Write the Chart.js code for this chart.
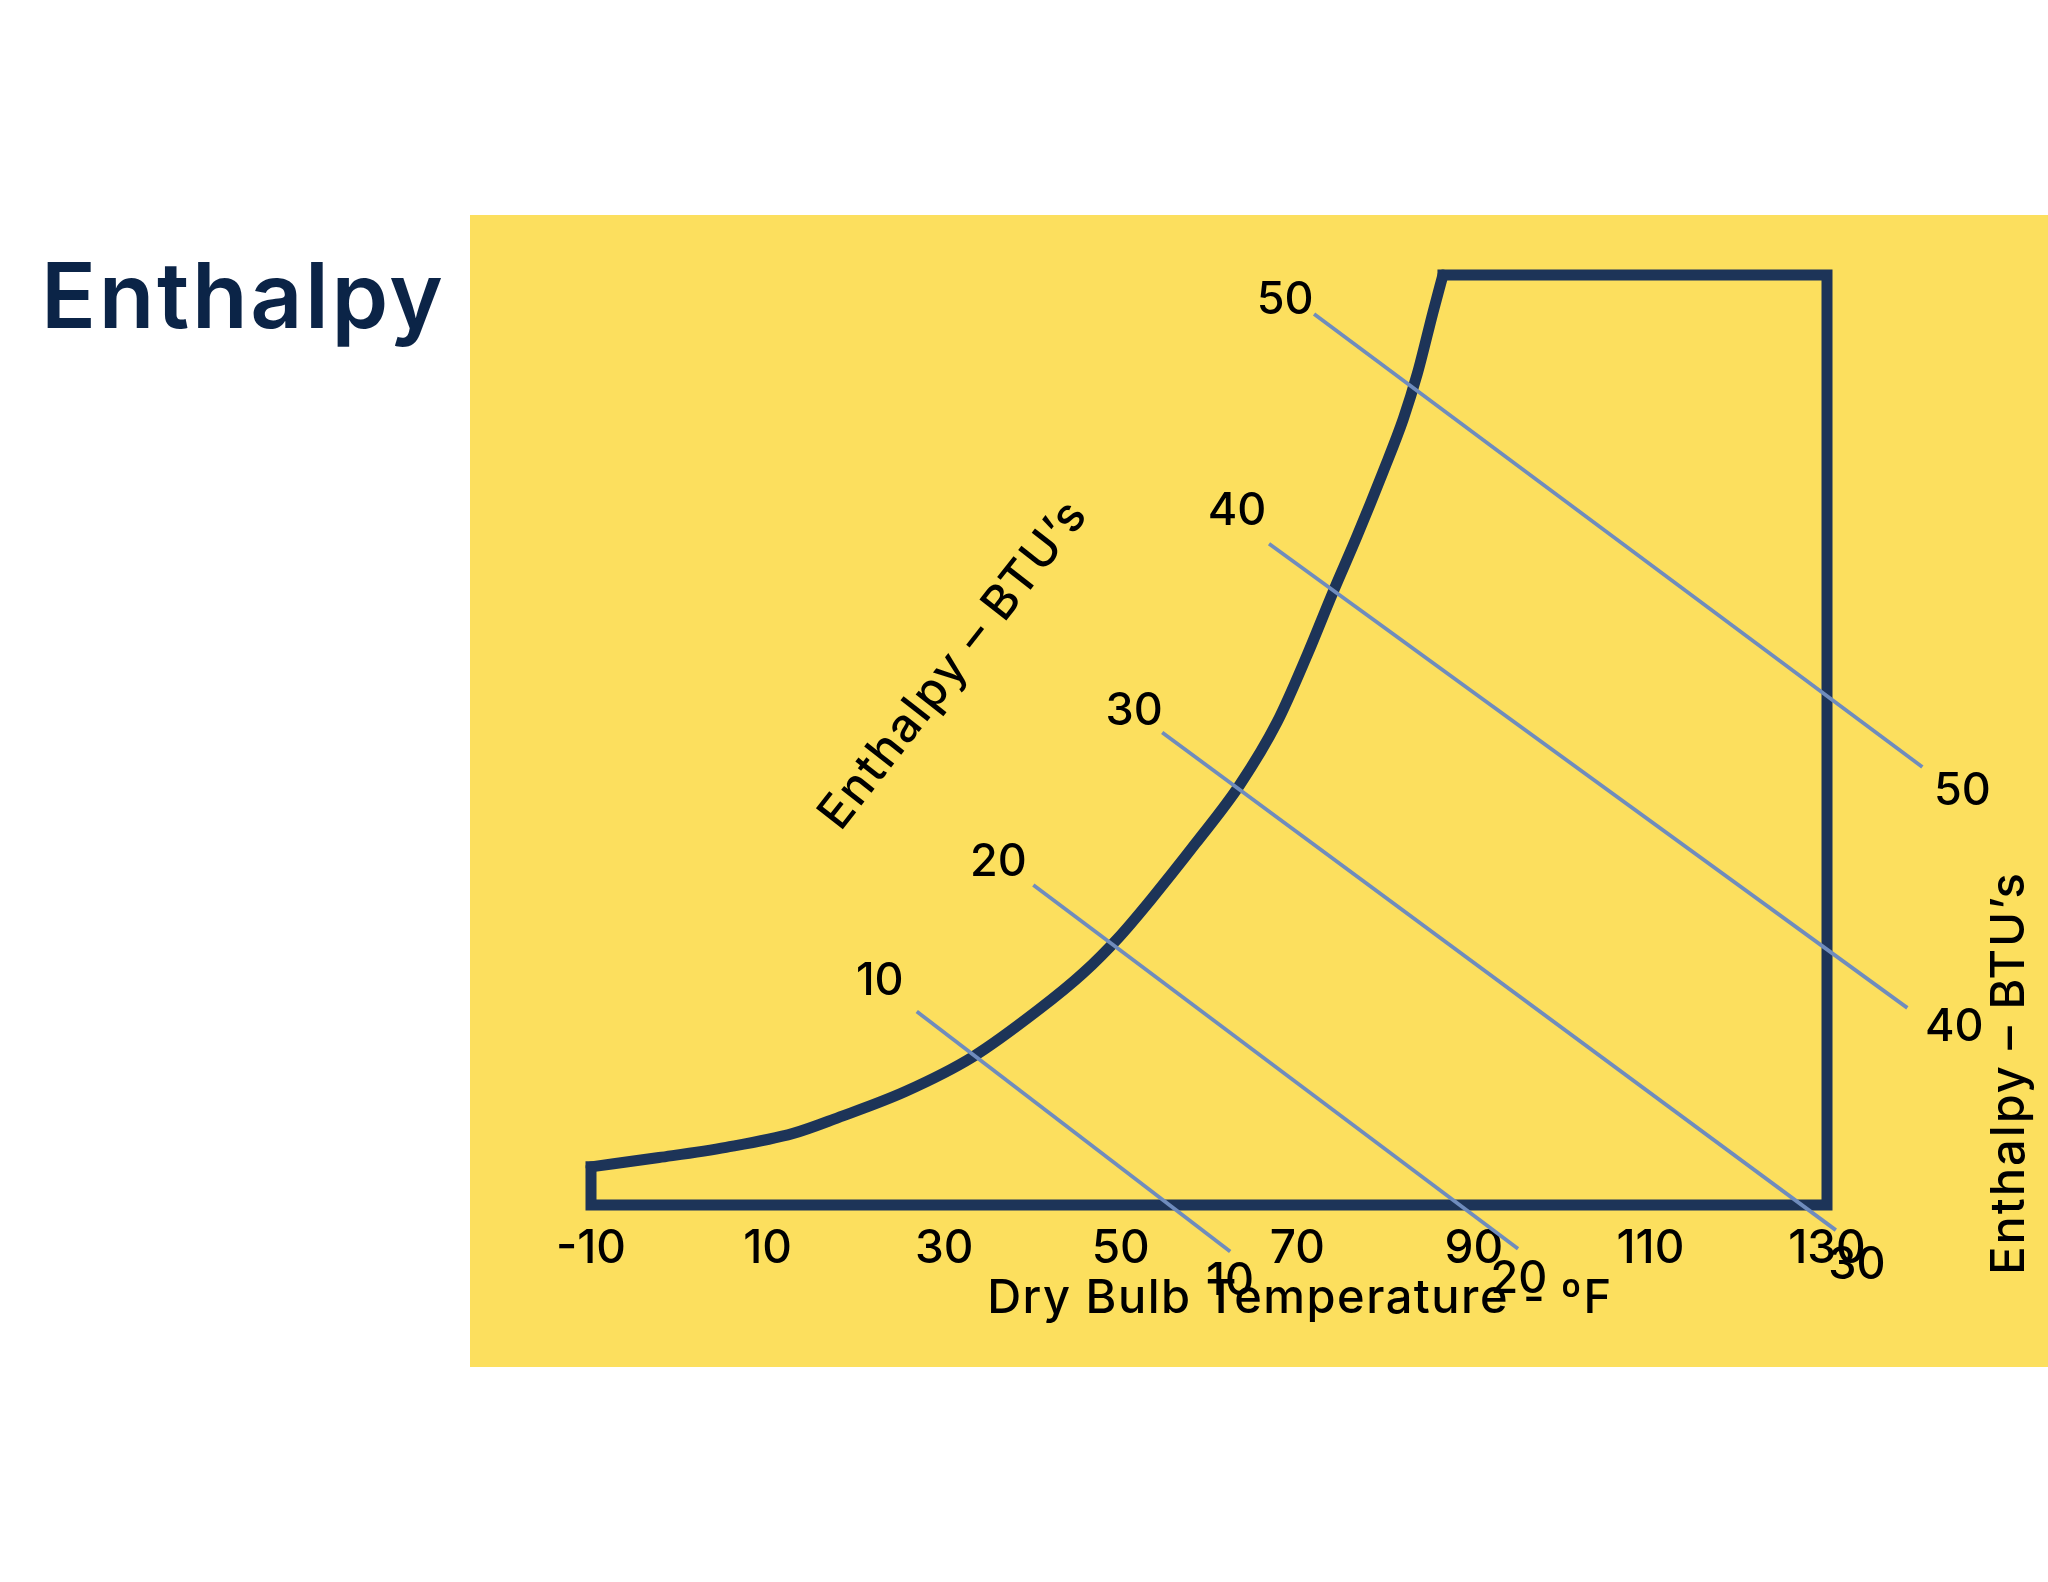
<!DOCTYPE html>
<html>
<head>
<meta charset="utf-8">
<title>Enthalpy</title>
<script src="https://cdn.jsdelivr.net/npm/chart.js@4.4.1/dist/chart.umd.min.js"></script>
<style>
  html, body { margin: 0; padding: 0; background: #fff; }
  body { width: 2048px; height: 1582px; position: relative; overflow: hidden; font-family: Inter, sans-serif; }
  h1 { position: absolute; left: 41px; top: 250px; margin: 0; font-size: 91px; line-height: 1; font-weight: 600; letter-spacing: 2.6px; color: #0b2447; }
  .panel { position: absolute; left: 470px; top: 215px; width: 1578px; height: 1152px; background: #fcdf5e; }
</style>
</head>
<body>
<h1>Enthalpy</h1>
<div class="panel"><canvas id="psychro" width="1578" height="1152"></canvas></div>
<script>
// --- data ---
// dry bulb temperature (°F) ticks
const xTicks = [-10, 10, 30, 50, 70, 90, 110, 130];

// saturation curve: temperature vs. (relative) humidity ratio, 0 = bottom edge, 100 = top edge
const satTemps = [-10, -2.3, 5.3, 12.9, 18.0, 25.6, 33.2, 40.7, 45.7, 49.8, 53.3, 58.5, 63.5, 67.7, 71.1, 74.0, 76.8, 79.7, 82.0, 83.6, 85.4, 86.5];
const satHumidity = [4.1, 5.1, 6.2, 7.7, 9.4, 12.2, 15.9, 21.0, 24.9, 28.8, 32.7, 38.9, 45.2, 51.9, 59.1, 65.8, 72.0, 78.8, 84.5, 89.4, 96.1, 100];

// chart frame (top, right side, bottom, left stub)
const frameTemps = [86.5, 130, 130, -10, -10];
const frameHumidity = [100, 100, 0, 0, 4.1];

// enthalpy lines (BTU/lb)
const enthalpyValues = [10, 20, 30, 40, 50];
const lineStartT = [26.9, 40.1, 54.7, 66.8, 71.9];
const lineStartW = [20.8, 34.4, 50.8, 71.1, 95.8];
const lineEndT = [62.4, 95.0, 131.0, 139.1, 140.8];
const lineEndW = [-5.0, -4.7, -2.7, 21.2, 47.1];

// --- styles ---
const NAVY = "#1d3458";
const STEEL = "#6f8cbd";
const FONT = "Inter";

// pixel shift of each enthalpy label from its line end
const topLabelShift = [[-37, -30], [-35, -23], [-28, -21], [-32, -32], [-29, -14]];
const bottomLabelShift = [[0, 30], [1, 31], [21, 35], [47, 20], [40, 24]];

const toPoints = (xs, ys) => xs.map((v, i) => ({ x: v, y: ys[i] }));

const datasets = [];

// enthalpy lines on top
enthalpyValues.forEach((h, i) => {
  datasets.push({
    label: "h = " + h,
    data: [{ x: lineStartT[i], y: lineStartW[i] }, { x: lineEndT[i], y: lineEndW[i] }],
    borderColor: STEEL,
    borderWidth: 3.8,
    pointRadius: 0,
    clip: false,
    order: 0,
  });
});

datasets.push({
  label: "Frame",
  data: toPoints(frameTemps, frameHumidity),
  borderColor: NAVY,
  borderWidth: 11,
  borderJoinStyle: "miter",
  borderCapStyle: "square",
  pointRadius: 0,
  tension: 0,
  clip: false,
  order: 1,
});

datasets.push({
  label: "Saturation",
  data: toPoints(satTemps, satHumidity),
  borderColor: NAVY,
  borderWidth: 11,
  borderCapStyle: "round",
  pointRadius: 0,
  cubicInterpolationMode: "monotone",
  clip: false,
  order: 1,
});

// texts placed on the chart (positions in data units)
const diagonalTitle = { text: "Enthalpy \u2013 BTU\u2019s", x: 31.1, y: 58.1, angle: -51.9 };
const sideTitle = { text: "Enthalpy \u2013 BTU\u2019s", x: 150.7, y: 14.2, angle: -90 };
const axisTitle = { text: "Dry Bulb Temperature - \u00baF", x: 70.3, y: -11.6 };

const notesPlugin = {
  id: "notes",
  afterDatasetsDraw(chart) {
    const { ctx } = chart;
    const x = chart.scales.x;
    const y = chart.scales.y;
    ctx.save();
    ctx.fillStyle = "#000";
    ctx.textAlign = "center";
    ctx.textBaseline = "middle";
    ctx.font = `500 45px ${FONT}`;

    enthalpyValues.forEach((h, i) => {
      ctx.fillText(String(h),
        x.getPixelForValue(lineStartT[i]) + topLabelShift[i][0],
        y.getPixelForValue(lineStartW[i]) + topLabelShift[i][1]);
      ctx.fillText(String(h),
        x.getPixelForValue(lineEndT[i]) + bottomLabelShift[i][0],
        y.getPixelForValue(lineEndW[i]) + bottomLabelShift[i][1]);
    });

    ctx.font = `500 47px ${FONT}`;
    ctx.letterSpacing = "2px";
    [diagonalTitle, sideTitle].forEach((t) => {
      ctx.save();
      ctx.translate(x.getPixelForValue(t.x), y.getPixelForValue(t.y));
      ctx.rotate((t.angle * Math.PI) / 180);
      ctx.fillText(t.text, 0, 0);
      ctx.restore();
    });

    ctx.font = `500 47px ${FONT}`;
    ctx.letterSpacing = "1.5px";
    ctx.textBaseline = "alphabetic";
    ctx.fillText(axisTitle.text, x.getPixelForValue(axisTitle.x), y.getPixelForValue(axisTitle.y));
    ctx.restore();
  },
};

new Chart(document.getElementById("psychro").getContext("2d"), {
  type: "line",
  data: { datasets },
  plugins: [notesPlugin],
  options: {
    responsive: false,
    animation: false,
    layout: { padding: { left: 121, right: 221, top: 60, bottom: 62 } },
    plugins: { legend: { display: false }, tooltip: { enabled: false } },
    scales: {
      x: {
        type: "linear",
        min: -10,
        max: 130,
        grid: { display: false, drawTicks: false },
        border: { display: false },
        afterBuildTicks: (axis) => {
          axis.ticks = xTicks.map((v) => ({ value: v }));
        },
        afterFit: (axis) => {
          axis.height = 100;
        },
        ticks: {
          color: "#000",
          font: { family: FONT, size: 46, weight: 500 },
          padding: 17,
          maxRotation: 0,
          autoSkip: false,
        },
      },
      y: { type: "linear", min: 0, max: 100, display: false },
    },
  },
});
</script>
</body>
</html>
